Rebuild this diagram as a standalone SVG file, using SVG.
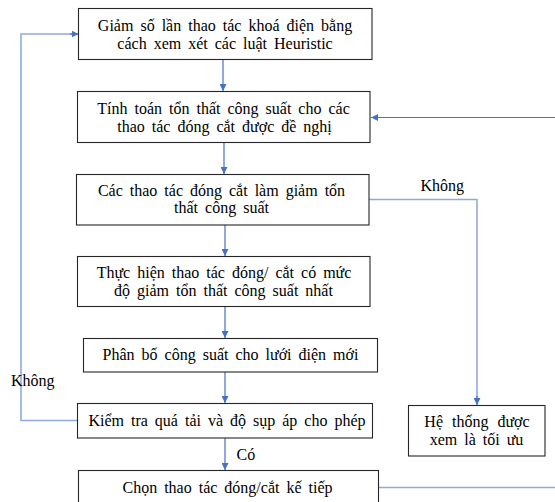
<svg xmlns="http://www.w3.org/2000/svg" width="555" height="502" viewBox="0 0 555 502">
  <style>
    .box { fill: #ffffff; stroke: #262626; stroke-width: 1.1; }
    .t { font-family: "Liberation Serif", "Times New Roman", serif; font-size: 16px; fill: #000; text-anchor: middle; word-spacing: 3px; }
    .lbl { font-family: "Liberation Serif", "Times New Roman", serif; font-size: 16px; fill: #000; }
    .arrow { fill: none; stroke: #4472C4; stroke-width: 1.2; }
    .loop { fill: none; stroke: #8FAADC; stroke-width: 1.6; }
  </style>
  <defs>
    <marker id="head" viewBox="0 0 10 10" refX="10" refY="5" markerUnits="userSpaceOnUse" markerWidth="7" markerHeight="7" orient="auto">
      <path d="M0,0 L10,5 L0,10 z" fill="#4472C4"/>
    </marker>
  </defs>

  <rect width="555" height="502" fill="#ffffff"/>

  <!-- connectors -->
  <g id="connectors">
    <line class="arrow" x1="223" y1="59.5" x2="223" y2="91" marker-end="url(#head)"/>
    <line class="arrow" x1="224" y1="142.5" x2="224" y2="174" marker-end="url(#head)"/>
    <line class="arrow" x1="225" y1="225" x2="225" y2="256" marker-end="url(#head)"/>
    <line class="arrow" x1="225" y1="306.5" x2="225" y2="338" marker-end="url(#head)"/>
    <line class="arrow" x1="225" y1="372" x2="225" y2="403" marker-end="url(#head)"/>
    <line class="arrow" x1="225" y1="438" x2="225" y2="470" marker-end="url(#head)"/>
    <!-- feedback into the loss calculation step -->
    <line class="arrow" x1="555" y1="117.5" x2="371" y2="117.5" marker-end="url(#head)"/>
    <!-- "no" branch to the optimal-system box -->
    <polyline class="loop" points="369,199.5 477,199.5 477,400"/>
    <line class="arrow" x1="477" y1="396" x2="477" y2="405" marker-end="url(#head)"/>
    <!-- "no" branch back to the heuristic step -->
    <polyline class="loop" points="77.5,420.5 21,420.5 21,34 74,34"/>
    <line class="arrow" x1="70" y1="34" x2="78.5" y2="34" marker-end="url(#head)"/>
    <!-- next switching operation -->
    <line class="loop" x1="378.5" y1="487.5" x2="555" y2="487.5"/>
  </g>

  <g id="n1">
    <rect class="box" x="78.5" y="8.5" width="293.5" height="51"/>
    <text class="t" x="225" y="31">Giảm số lần thao tác khoá điện bằng</text>
    <text class="t" x="225" y="48.5">cách xem xét các luật Heuristic</text>
  </g>

  <g id="n2">
    <rect class="box" x="77.5" y="91.5" width="292.5" height="51"/>
    <text class="t" x="223.5" y="114">Tính toán tổn thất công suất cho các</text>
    <text class="t" x="224.5" y="132">thao tác đóng cắt được đề nghị</text>
  </g>

  <g id="n3">
    <rect class="box" x="76.5" y="174.5" width="292.5" height="50.5"/>
    <text class="t" x="221.5" y="195.5">Các thao tác đóng cắt làm giảm tổn</text>
    <text class="t" x="221.5" y="213">thất công suất</text>
  </g>

  <g id="n4">
    <rect class="box" x="77.5" y="256.5" width="292.5" height="50"/>
    <text class="t" x="224" y="278">Thực hiện thao tác đóng/ cắt có mức</text>
    <text class="t" x="223.5" y="296">độ giảm tổn thất công suất nhất</text>
  </g>

  <g id="n5">
    <rect class="box" x="83.5" y="338.5" width="294" height="33.5"/>
    <text class="t" x="230.5" y="360">Phân bố công suất cho lưới điện mới</text>
  </g>

  <g id="n6">
    <rect class="box" x="77.5" y="403.5" width="295" height="34.5"/>
    <text class="t" x="227" y="426">Kiểm tra quá tải và độ sụp áp cho phép</text>
  </g>

  <g id="n7">
    <rect class="box" x="78.5" y="470.5" width="300" height="40"/>
    <text class="t" x="227.5" y="493">Chọn thao tác đóng/cắt kế tiếp</text>
  </g>

  <g id="n8">
    <rect class="box" x="408.5" y="405.5" width="136.5" height="50.5"/>
    <text class="t" x="477" y="427" style="word-spacing:5px">Hệ thống được</text>
    <text class="t" x="476.5" y="445">xem là tối ưu</text>
  </g>

  <g id="labels">
    <text class="lbl" x="420.5" y="190.5">Không</text>
    <text class="lbl" x="11" y="386">Không</text>
    <text class="lbl" x="236.5" y="460">Có</text>
  </g>
</svg>
